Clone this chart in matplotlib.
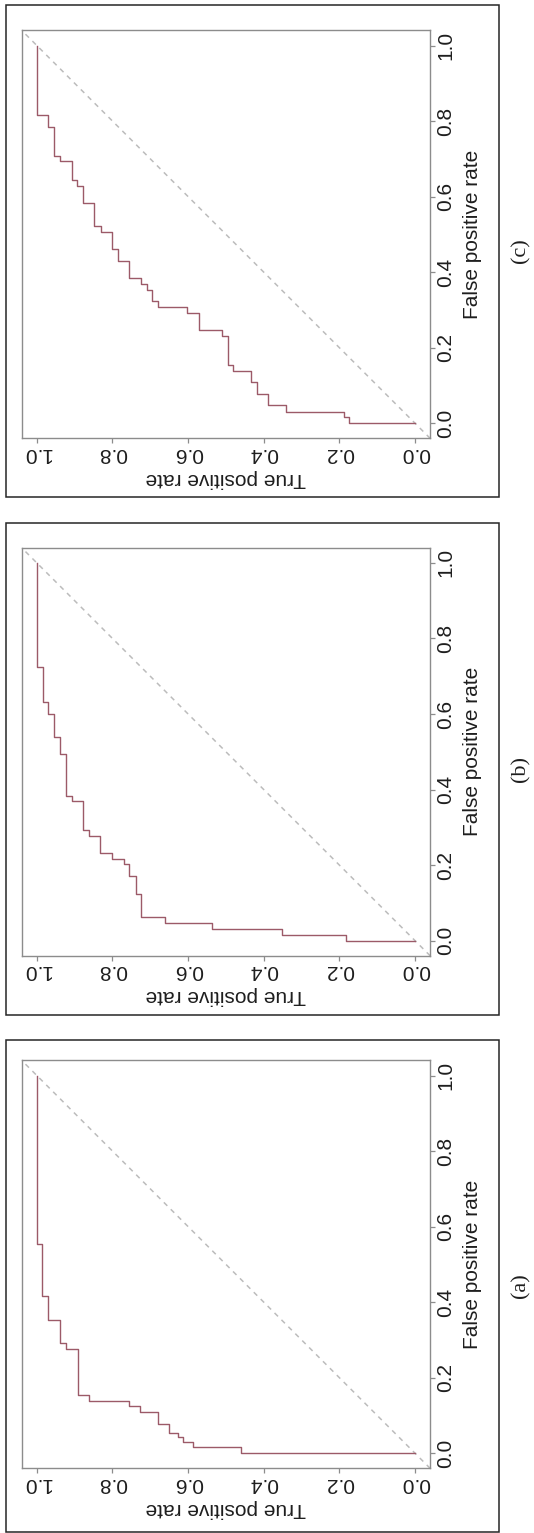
import matplotlib
matplotlib.use('Agg')
import matplotlib.pyplot as plt
from matplotlib.patches import Rectangle

# ---------------- data (ROC staircases) ----------------
panel_names = ['(a)', '(b)', '(c)']

tpr_a = [0, .461, .586, .614, .628, .651, .679, .727, .756, .863, .892, .923, .939, .971, .987, 1.0]
fpr_a = [0, .016, .030, .043, .054, .077, .108, .124, .138, .155, .276, .293, .353, .416, .554, 1.0]

tpr_b = [0, .182, .352, .537, .661, .724, .738, .756, .769, .800, .832, .862, .879, .908, .924,
         .939, .954, .970, .985, 1.0]
fpr_b = [0, .015, .031, .047, .062, .123, .171, .202, .216, .231, .278, .293, .369, .383, .493,
         .539, .599, .632, .724, 1.0]

tpr_c = [0, .174, .189, .342, .389, .417, .435, .481, .495, .510, .572, .603, .679, .695, .709,
         .724, .755, .786, .801, .831, .848, .878, .894, .907, .939, .954, .970, 1.0]
fpr_c = [0, .017, .031, .048, .078, .109, .138, .154, .231, .247, .293, .307, .324, .353, .368,
         .384, .430, .461, .507, .522, .584, .629, .644, .693, .708, .784, .815, 1.0]

tick_values = [0.0, 0.2, 0.4, 0.6, 0.8, 1.0]
tick_labels = ['0.0', '0.2', '0.4', '0.6', '0.8', '1.0']
x_title = 'True positive rate'
y_title = 'False positive rate'

# ---------------- figure ----------------
plt.rcParams['font.family'] = ['Liberation Sans', 'DejaVu Sans']
W, H, DPI = 534, 1533, 100
fig = plt.figure(figsize=(W / DPI, H / DPI), dpi=DPI)
fig.patch.set_facecolor('white')

# the picture is the original row of three panels turned 90 degrees:
# panel (c) on top, (a) at the bottom
panels = [(panel_names[2], tpr_c, fpr_c), (panel_names[1], tpr_b, fpr_b), (panel_names[0], tpr_a, fpr_a)]
box_tops = [5, 523, 1040]
box_h = 492
box_left, box_right = 6, 499
plot_left, plot_w = 21.7, 408.5
plot_h = 408.0
plot_tops = [30.4, 547.8, 1060.4]

frame_col = '#8c8c8c'
roc_col = '#9c5a68'
diag_col = '#bcbcbc'
text_col = '#1e1e1e'

for (name, tpr, fpr), btop, ptop in zip(panels, box_tops, plot_tops):
    # outer frame
    fig.add_artist(Rectangle((box_left / W, 1 - (btop + box_h) / H),
                             (box_right - box_left) / W, box_h / H,
                             transform=fig.transFigure, fill=False,
                             ec='#262626', lw=1.1, zorder=0))
    ax = fig.add_axes([plot_left / W, 1 - (ptop + plot_h) / H, plot_w / W, plot_h / H])
    ax.axline((0, 0), slope=1, color=diag_col, lw=1.1, ls=(0, (3.2, 3.2)), zorder=1)
    ax.step(tpr, fpr, where='post', color=roc_col, lw=1.0, zorder=2)
    ax.set_xlim(1.04, -0.04)
    ax.set_ylim(-0.04, 1.04)
    for s in ax.spines.values():
        s.set_color(frame_col)
        s.set_linewidth(1.0)

    # original x axis (false positive rate) now on the right, reading upwards
    ax.yaxis.tick_right()
    ax.set_yticks(tick_values)
    ax.set_yticklabels(tick_labels, rotation=90, va='center', ha='left', fontsize=15, color=text_col)
    ax.tick_params(axis='y', direction='out', length=3.6, width=0.9, color=frame_col, pad=0.5)
    ax.yaxis.set_label_position('right')
    ax.set_ylabel(y_title, rotation=90, fontsize=15, color=text_col, va='center', ha='center')
    ax.yaxis.set_label_coords(1.103, 0.5)

    # original y axis (true positive rate) now at the bottom, upside down
    ax.set_xticks(tick_values)
    ax.set_xticklabels(tick_labels, rotation=180, ha='center', va='top', fontsize=15, color=text_col)
    ax.tick_params(axis='x', direction='out', length=3.6, width=0.9, color=frame_col, pad=0.5)
    ax.set_xlabel(x_title, rotation=180, fontsize=15, color=text_col, va='center', ha='center')
    ax.xaxis.set_label_coords(0.5, -0.098)

    fig.text(521 / W, 1 - (btop + box_h / 2) / H, name, rotation=90, ha='center', va='center',
             fontsize=16, family=['Liberation Serif', 'DejaVu Serif'], color=text_col)

fig.savefig('out.png', dpi=DPI, facecolor='white')
